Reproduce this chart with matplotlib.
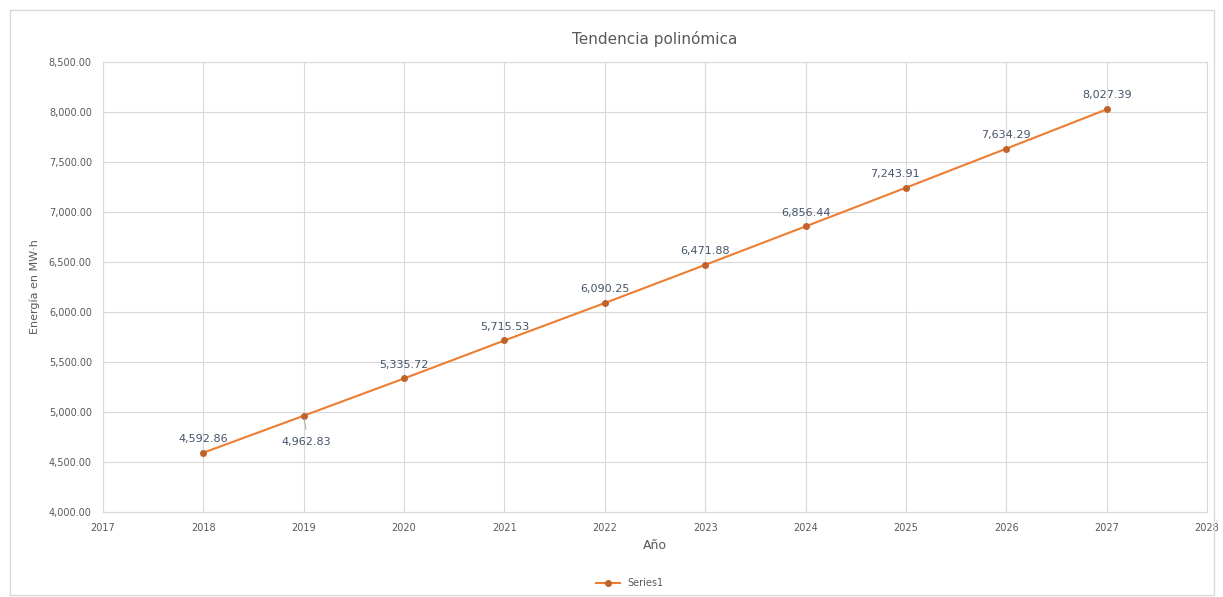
import matplotlib.pyplot as plt
from matplotlib.ticker import FuncFormatter, MultipleLocator
from matplotlib.patches import Rectangle

# Data
years = [2018, 2019, 2020, 2021, 2022, 2023, 2024, 2025, 2026, 2027]
energy = [4592.86, 4962.83, 5335.72, 5715.53, 6090.25, 6471.88, 6856.44, 7243.91, 7634.29, 8027.39]
# label offset in points (dx, dy); 2019 label sits below the point
label_offsets = [(0, 10), (2, -19), (0, 10), (0, 10), (0, 10), (0, 10), (0, 10), (-8, 10), (0, 10), (0, 10)]

grey_txt = '#595959'
grid_col = '#d9d9d9'
orange = '#ED7D31'

fig = plt.figure(figsize=(12.23, 5.97), dpi=100)
fig.patches.append(Rectangle((0.008, 0.004), 0.985, 0.98, transform=fig.transFigure,
                             fill=False, edgecolor='#d9d9d9', linewidth=1))

ax = fig.add_axes([0.0842, 0.1424, 0.9028, 0.7536])
ax.plot(years, energy, color=orange, linewidth=1.5, marker='o', markersize=4,
        markerfacecolor='#c0632a', markeredgecolor='#c0632a', label='Series1', zorder=3)

for x, y, (dx, dy) in zip(years, energy, label_offsets):
    ax.annotate(f'{y:,.2f}', (x, y), xytext=(dx, dy), textcoords='offset points',
                ha='center', va='center', fontsize=8, color='#44546A')

# small leader line for the label placed below the 2019 point
ax.annotate('', (years[1], energy[1]), xytext=(2, -12), textcoords='offset points',
            arrowprops=dict(arrowstyle='-', color='#a6a6a6', linewidth=0.6))

ax.set_xlim(2017, 2028)
ax.set_ylim(4000, 8500)
ax.xaxis.set_major_locator(MultipleLocator(1))
ax.yaxis.set_major_locator(MultipleLocator(500))
ax.yaxis.set_major_formatter(FuncFormatter(lambda v, p: f'{v:,.2f}'))
ax.grid(True, color=grid_col, linewidth=0.8)
ax.set_axisbelow(True)
for s in ax.spines.values():
    s.set_color(grid_col)
ax.tick_params(length=0, labelsize=7, colors=grey_txt, pad=8)

ax.set_title('Tendencia polinómica', fontsize=11, color=grey_txt, pad=13)
ax.set_xlabel('Año', fontsize=9, color=grey_txt, labelpad=4)
ax.set_ylabel('Energía en MW·h', fontsize=8, color=grey_txt, labelpad=6)

fig.legend(loc='center', bbox_to_anchor=(0.515, 0.023), frameon=False, fontsize=7,
           labelcolor=grey_txt, handlelength=2.5)

fig.savefig('out.png', dpi=100, facecolor='white')
